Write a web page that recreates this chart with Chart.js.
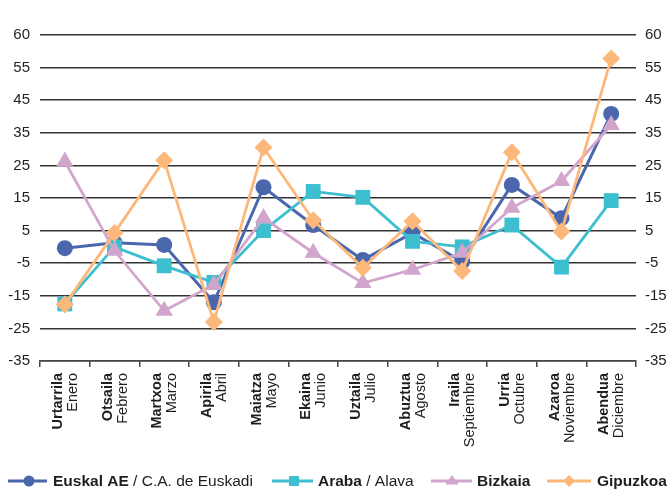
<!DOCTYPE html>
<html>
<head>
<meta charset="utf-8">
<script src="https://cdn.jsdelivr.net/npm/chart.js@4/dist/chart.umd.min.js"></script>
<style>
  html, body { margin: 0; padding: 0; background: #fff; }
  #wrap { width: 669px; height: 489px; position: relative; }
</style>
</head>
<body>
<div id="wrap"><canvas id="c" width="669" height="489"></canvas></div>
<script>
// Categories (Basque bold / Spanish regular)
const monthsEu = ['Urtarrila','Otsaila','Martxoa','Apirila','Maiatza','Ekaina','Uztaila','Abuztua','Iraila','Urria','Azaroa','Abendua'];
const monthsEs = ['Enero','Febrero','Marzo','Abril','Mayo','Junio','Julio','Agosto','Septiembre','Octubre','Noviembre','Diciembre'];

// Series values
const euskalAE = [-0.4, 1.3, 0.6, -17, 18.3, 6.7, -4, 4.3, -4.5, 19, 8.8, 40.8];
const araba    = [-17.5, 0, -5.8, -10.9, 5, 17, 15.2, 1.7, 0, 6.7, -6.2, 14.2];
const bizkaia  = [26.2, -1.2, -19.6, -11.6, 8.9, -1.8, -11.1, -7, -1.8, 12, 20.2, 37.4];
const gipuzkoa = [-17.7, 4.3, 26.6, -23, 30.5, 8.2, -6.4, 7.9, -7.4, 29, 4.7, 57.8];

// Y tick labels (bottom to top)
const yTickLabels = ['-35','-25','-15','-5','5','15','25','35','45','55','60'];

// Legend labels
const legendBold = ['Euskal AE', 'Araba', 'Bizkaia', 'Gipuzkoa'];
const legendReg  = [' / C.A. de Euskadi', ' / Alava', '', ''];

const colors = ['#4a67ae', '#3dbfd0', '#d2a5cd', '#fcb87a'];
const FONT = '"Liberation Sans", Arial, Helvetica, sans-serif';
const TEXT = '#1e1e1e';

function tickLabel(value, index) {
  return yTickLabels[index] !== undefined ? yTickLabels[index] : '';
}

const xLabelPlugin = {
  id: 'xLabels',
  afterDraw(chart) {
    const ctx = chart.ctx;
    const xs = chart.scales.x;
    const top = chart.chartArea.bottom + 12;
    ctx.save();
    ctx.fillStyle = TEXT;
    ctx.textAlign = 'right';
    ctx.textBaseline = 'middle';
    monthsEu.forEach((m, i) => {
      const x = xs.getPixelForValue(i);
      ctx.save();
      ctx.translate(x - 7, top);
      ctx.rotate(-Math.PI / 2);
      ctx.font = 'bold 14.5px ' + FONT;
      ctx.fillText(m, 0, 0);
      ctx.restore();
      ctx.save();
      ctx.translate(x + 8, top);
      ctx.rotate(-Math.PI / 2);
      ctx.font = '14.5px ' + FONT;
      ctx.fillText(monthsEs[i], 0, 0);
      ctx.restore();
    });
    ctx.restore();
  }
};

function drawMarker(ctx, style, x, y, r, color) {
  ctx.fillStyle = color;
  ctx.beginPath();
  if (style === 'circle') {
    ctx.arc(x, y, r, 0, Math.PI * 2);
  } else if (style === 'rect') {
    ctx.rect(x - r, y - r, 2 * r, 2 * r);
  } else if (style === 'triangle') {
    ctx.moveTo(x, y - r);
    ctx.lineTo(x + r * 1.1, y + r * 0.6);
    ctx.lineTo(x - r * 1.1, y + r * 0.6);
    ctx.closePath();
  } else if (style === 'rectRot') {
    ctx.moveTo(x, y - r);
    ctx.lineTo(x + r, y);
    ctx.lineTo(x, y + r);
    ctx.lineTo(x - r, y);
    ctx.closePath();
  }
  ctx.fill();
}

const legendPlugin = {
  id: 'customLegend',
  afterDraw(chart) {
    const ctx = chart.ctx;
    const y = 481;
    const items = [
      { x0: 8,   x1: 47,  mx: 29,  tx: 53,  style: 'circle',   r: 5.5 },
      { x0: 272, x1: 313, mx: 294, tx: 318, style: 'rect',     r: 5 },
      { x0: 431, x1: 472, mx: 452, tx: 477, style: 'triangle', r: 6 },
      { x0: 547, x1: 591, mx: 569, tx: 597, style: 'rectRot',  r: 6 }
    ];
    ctx.save();
    items.forEach((it, i) => {
      ctx.strokeStyle = colors[i];
      ctx.lineWidth = 3;
      ctx.beginPath();
      ctx.moveTo(it.x0, y);
      ctx.lineTo(it.x1, y);
      ctx.stroke();
      drawMarker(ctx, it.style, it.mx, y, it.r, colors[i]);
      ctx.fillStyle = TEXT;
      ctx.textAlign = 'left';
      ctx.textBaseline = 'middle';
      ctx.font = 'bold 15.5px ' + FONT;
      ctx.fillText(legendBold[i], it.tx, y + 1);
      const w = ctx.measureText(legendBold[i]).width;
      if (legendReg[i]) {
        ctx.font = '15.5px ' + FONT;
        ctx.fillText(legendReg[i], it.tx + w, y + 1);
      }
    });
    ctx.restore();
  }
};

const ds = (label, data, i, style, radius, order, width) => ({
  label, data,
  borderColor: colors[i],
  backgroundColor: colors[i],
  pointBackgroundColor: colors[i],
  pointBorderColor: colors[i],
  pointBorderWidth: 0,
  borderWidth: width,
  pointStyle: style,
  pointRadius: radius,
  pointHoverRadius: radius,
  tension: 0,
  order: order,
  clip: false
});

new Chart(document.getElementById('c'), {
  type: 'line',
  data: {
    labels: monthsEu,
    datasets: [
      ds('Euskal AE / C.A. de Euskadi', euskalAE, 0, 'circle', 8, 4, 3),
      ds('Araba / Alava', araba, 1, 'rect', 10.5, 3, 2.8),
      ds('Bizkaia', bizkaia, 2, 'triangle', 10, 2, 2.8),
      ds('Gipuzkoa', gipuzkoa, 3, 'rectRot', 9, 1, 2.8)
    ]
  },
  options: {
    responsive: false,
    animation: false,
    devicePixelRatio: 1,
    layout: { padding: { top: 35, bottom: 0, left: 0, right: 0 } },
    plugins: {
      legend: { display: false },
      title: { display: false },
      tooltip: { enabled: false }
    },
    scales: {
      x: {
        type: 'category',
        offset: true,
        grid: {
          display: true,
          offset: true,
          drawOnChartArea: false,
          drawTicks: true,
          tickLength: 6,
          color: '#444',
          lineWidth: 1.5
        },
        border: { display: true, color: '#444', width: 1.5 },
        ticks: { display: false },
        afterFit(scale) { scale.height = 128; }
      },
      y: {
        type: 'linear',
        position: 'left',
        min: -35,
        max: 65,
        ticks: {
          stepSize: 10,
          padding: 10,
          color: TEXT,
          font: { family: FONT, size: 15 },
          callback: tickLabel
        },
        grid: {
          color: '#333',
          lineWidth: 1.6,
          drawTicks: false
        },
        border: { display: false },
        afterFit(scale) { scale.width = 40; }
      },
      y2: {
        type: 'linear',
        position: 'right',
        min: -35,
        max: 65,
        ticks: {
          stepSize: 10,
          padding: 9,
          color: TEXT,
          font: { family: FONT, size: 15 },
          callback: tickLabel
        },
        grid: { display: false, drawTicks: false },
        border: { display: false },
        afterFit(scale) { scale.width = 33; }
      }
    }
  },
  plugins: [xLabelPlugin, legendPlugin]
});
</script>
</body>
</html>
